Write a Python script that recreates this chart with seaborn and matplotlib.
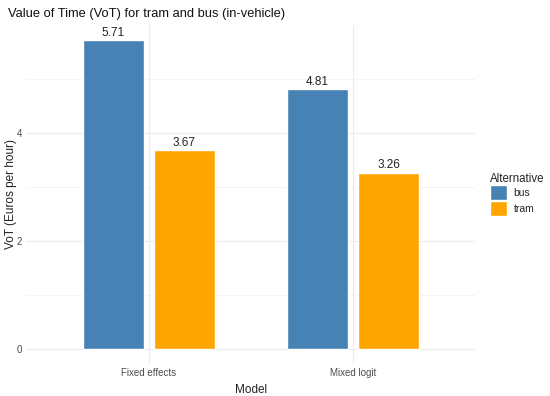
import pandas as pd
import matplotlib.pyplot as plt
import seaborn as sns

models = ["Fixed effects", "Mixed logit"]
alternatives = ["bus", "tram"]
bus_vot = [5.71, 4.81]
tram_vot = [3.67, 3.26]

df = pd.DataFrame({
    "Model": models * 2,
    "Alternative": ["bus"] * 2 + ["tram"] * 2,
    "VoT": bus_vot + tram_vot,
})

sns.set_theme(style="whitegrid")
plt.rcParams["font.family"] = ["Liberation Sans", "DejaVu Sans"]

fig = plt.figure(figsize=(5.5, 3.96), dpi=100)
ax = fig.add_axes([0.048, 0.081, 0.816, 0.856])

sns.barplot(data=df, x="Model", y="VoT", hue="Alternative", hue_order=alternatives,
            palette={"bus": "#4682B4", "tram": "#FFA500"}, width=0.7, gap=0.143,
            saturation=1, ax=ax, legend=True)

for cont in ax.containers:
    ax.bar_label(cont, fmt="%.2f", padding=1, fontsize=8.5, color="#222222")

ax.set_xlim(-0.6, 1.6)
ax.set_ylim(-0.2855, 5.9955)
ax.set_yticks([0, 2, 4])
ax.set_yticks([1, 3, 5], minor=True)
ax.grid(True, which="major", color="#EBEBEB", linewidth=0.8)
ax.grid(True, which="minor", axis="y", color="#F3F3F3", linewidth=0.6)
ax.set_axisbelow(True)
for s in ax.spines.values():
    s.set_visible(False)
ax.tick_params(axis="both", which="both", length=0, labelsize=7, labelcolor="#4D4D4D", pad=3)
ax.set_xlabel("Model", fontsize=8.5, color="#222222", labelpad=4)
ax.set_ylabel("VoT (Euros per hour)", fontsize=8.5, color="#222222")
ax.yaxis.set_label_coords(-0.022, 0.5)
ax.set_title("Value of Time (VoT) for tram and bus (in-vehicle)", fontsize=9.3, loc="left",
             x=-0.04, pad=6, color="#111111")

leg = ax.legend(title="Alternative", loc="center left", bbox_to_anchor=(1.032, 0.5),
                frameon=False, fontsize=7.5, title_fontsize=8.3, handlelength=1.7,
                handleheight=1.85, handletextpad=0.6, labelspacing=0.05,
                borderpad=0, borderaxespad=0)
leg._legend_box.align = "left"

fig.savefig("out.png", dpi=100)
